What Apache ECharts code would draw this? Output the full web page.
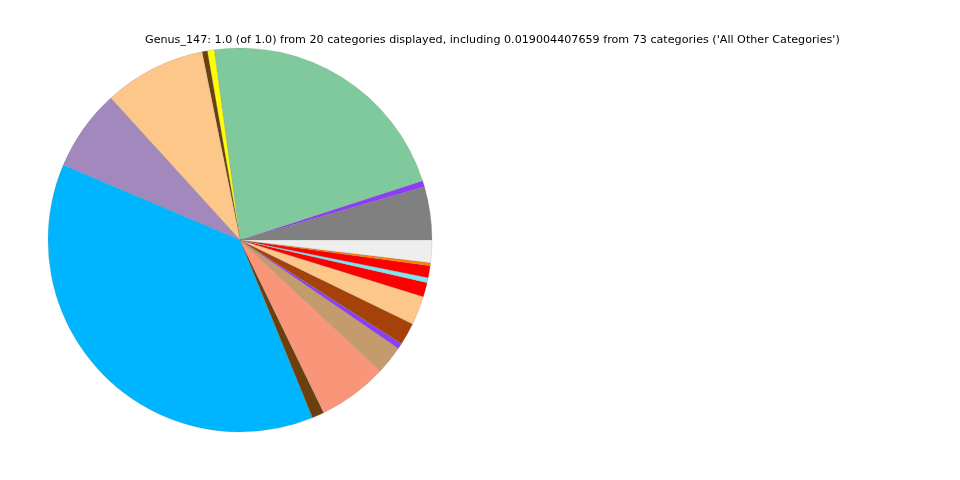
<!DOCTYPE html>
<html>
<head>
<meta charset="utf-8">
<script src="https://cdn.jsdelivr.net/npm/echarts@6/dist/echarts.min.js"></script>
<style>html,body{margin:0;padding:0;background:#fff}#c{width:960px;height:480px}</style>
</head>
<body>
<div id="c"></div>
<script>
var titleText = "Genus_147: 1.0 (of 1.0) from 20 categories displayed, including 0.019004407659 from 73 categories ('All Other Categories')";
var categories = ["Genus A","Genus B","Genus C","Genus D","Genus E","Genus F","Genus G","Genus H","Genus I","Genus J","Genus K","Genus L","Genus M","Genus N","Genus O","Genus P","Genus Q","Genus R","All Other Categories"];
var values = [0.0447,0.0053,0.2214,0.0058,0.0045,0.0858,0.0686,0.3753,0.0103,0.0586,0.0239,0.0047,0.0189,0.0242,0.0121,0.0042,0.0100,0.0025,0.0190];
var colors = ["#808080","#8c3ef5","#80c99c","#ffff00","#6b400d","#fdc78a","#a288bd","#00b5ff","#6b400d","#f9967a","#c49b6c","#8c3ef5","#a5420a","#fdc78a","#ff0000","#7fe5f0","#ff0000","#ff7f00","#eeeeee"];

var chart = echarts.init(document.getElementById('c'));
chart.setOption({
  animation: false,
  title: {
    text: titleText,
    left: 145, top: 35, padding: 0,
    textStyle: {fontFamily: 'DejaVu Sans', fontSize: 11.15, fontWeight: 'normal', color: '#000'}
  },
  series: [{
    type: 'pie',
    center: [240, 240],
    radius: 192,
    startAngle: 0,
    clockwise: false,
    label: {show: false},
    labelLine: {show: false},
    emphasis: {disabled: true},
    itemStyle: {borderWidth: 0.4, borderColor: 'rgba(120,120,120,0.5)'},
    data: categories.map(function (n, i) {
      return {name: n, value: values[i], itemStyle: {color: colors[i]}};
    })
  }]
});
</script>
</body>
</html>
